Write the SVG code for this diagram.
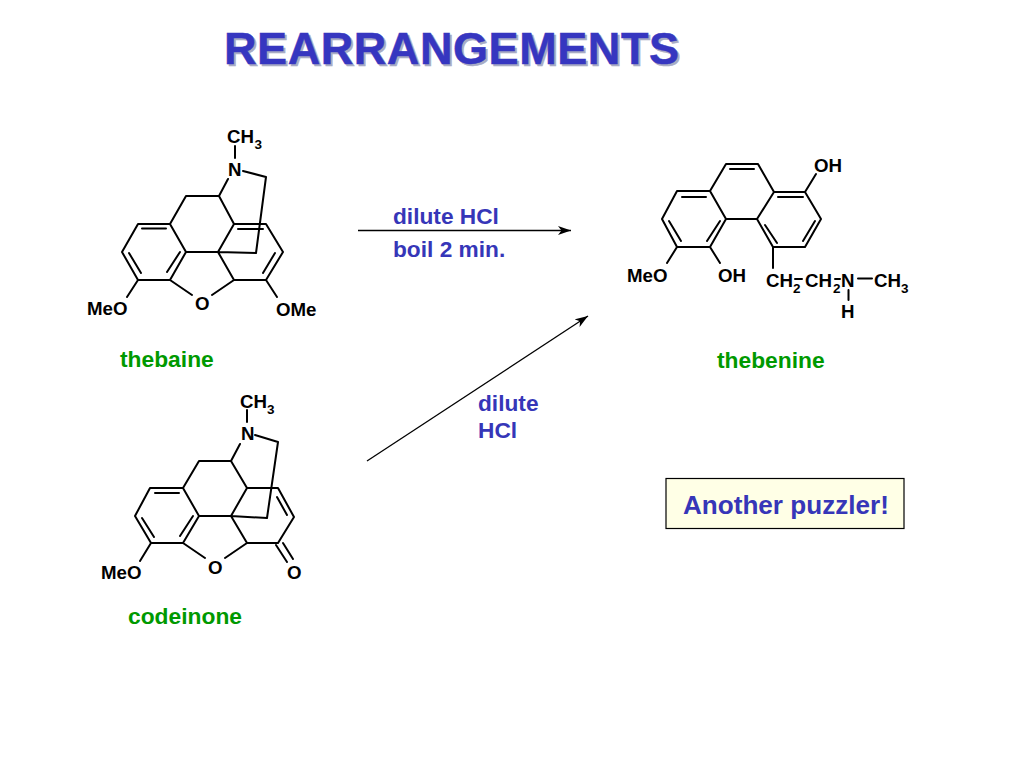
<svg xmlns="http://www.w3.org/2000/svg" width="1024" height="768" viewBox="0 0 1024 768">
<style>
text{font-family:"Liberation Sans",Arial,sans-serif}
.b{fill:none;stroke:#000;stroke-width:2;stroke-linecap:round;stroke-linejoin:round}
.a{font-size:18.700px;font-weight:bold;fill:#000}
.s{font-size:13.500px;font-weight:bold;fill:#000}
.g{font-size:22.800px;font-weight:bold;fill:#009900}
.r{font-size:22.700px;font-weight:bold;fill:#3636b8}
.arrow{fill:none;stroke:#000;stroke-width:1.300;marker-end:url(#ah)}
</style>
<defs>
<marker id="ah" markerUnits="userSpaceOnUse" markerWidth="14" markerHeight="10" refX="13" refY="5" orient="auto"><path d="M0 .5L13 5L0 9.500L3.500 5Z" fill="#000"/></marker>
</defs>
<rect width="1024" height="768" fill="#fff"/>
<g id="title">
<text x="226" y="66" font-size="45" font-weight="bold" fill="#a9acc4" stroke="#a9acc4" stroke-width=".5" textLength="455" lengthAdjust="spacing">REARRANGEMENTS</text>
<text x="224" y="64" font-size="45" font-weight="bold" fill="#3636c0" stroke="#3636c0" stroke-width=".5" textLength="455" lengthAdjust="spacing">REARRANGEMENTS</text>
</g>
<g id="thebaine">
<path class="b" d="M235 146V158M228 179L219 196H186L170 224H138L122 252L138 280H170L186 252L170 224M142 228.500H166M129 253L141 273M167 272L180 252M138 280L127 297M170 280L192 295M186 252H218L234 224L219 196M234 224H266L283 252L266 280H234L218 252M238 229H263M275 253L263 273M234 280L212 295M266 280L277 297M243 171L266 177L256 253L218 252"/>
<text class="a" x="227" y="143">CH</text><text class="s" x="254.500" y="149">3</text>
<text class="a" x="228" y="176">N</text>
<text class="a" x="87" y="315">MeO</text>
<text class="a" x="195" y="310">O</text>
<text class="a" x="276" y="315.500">OMe</text>
<text class="g" x="120" y="367">thebaine</text>
</g>
<g id="codeinone">
<path class="b" d="M247 410V422M240 444L231 461H199L183 488H150L135 516L151 543H183L199 516L183 488M155 493H179M142 518L154 537M180 536L193 516M151 543L140 561M183 543L205 558M199 516H231L247 488L231 461M247 488H278L294 517L278 543H247L231 516M277 497L287 515M247 543L225 558M276 545L287 562M283 543L293 559M278 543L294 517M255 435L278 442L267 518L231 516"/>
<text class="a" x="240" y="408">CH</text><text class="s" x="267" y="414">3</text>
<text class="a" x="241" y="440">N</text>
<text class="a" x="101" y="578.500">MeO</text>
<text class="a" x="208" y="574">O</text>
<text class="a" x="287" y="579">O</text>
<text class="g" x="128" y="624">codeinone</text>
</g>
<g id="thebenine">
<path class="b" d="M677 191H710L726 219L710 247H677L662 219ZM710 191L726 164H758L774 192L757 219H726M774 192H805L821 219L805 247H773L757 219M682 197H706M669 221L681 241M707 241L720 221M730 169H754M778 197H803M815 221L803 241M765 225L777 243M805 192L816 174M710 247L720 263M677 247L667 263M773 247V268M848.500 290V300M858 278.500H872M795 279H802M835 279H840"/>
<text class="a" x="814" y="172">OH</text>
<text class="a" x="718" y="281.500">OH</text>
<text class="a" x="627" y="281.500">MeO</text>
<text class="a" x="766" y="286.500">CH</text><text class="s" x="793" y="293">2</text>
<text class="a" x="805" y="286.500">CH</text><text class="s" x="833" y="293">2</text>
<text class="a" x="841" y="286.500">N</text>
<text class="a" x="874" y="286.500">CH</text><text class="s" x="901" y="293">3</text>
<text class="a" x="841" y="318">H</text>
<text class="g" x="717" y="368">thebenine</text>
</g>
<g id="connectors">
<path class="arrow" d="M358 230.500H571"/>
<path class="arrow" d="M367 461L588 316"/>
</g>
<g id="conditions">
<text class="r" x="393" y="224">dilute HCl</text>
<text class="r" x="393" y="257">boil 2 min.</text>
<text class="r" x="478" y="411">dilute</text>
<text class="r" x="478" y="438">HCl</text>
</g>
<g id="note">
<rect x="666" y="478.500" width="238" height="50" fill="#ffffe6" stroke="#000" stroke-width="1.200"/>
<text x="683" y="514" font-size="26.100" font-weight="bold" fill="#3636b8">Another puzzler!</text>
</g>
</svg>
